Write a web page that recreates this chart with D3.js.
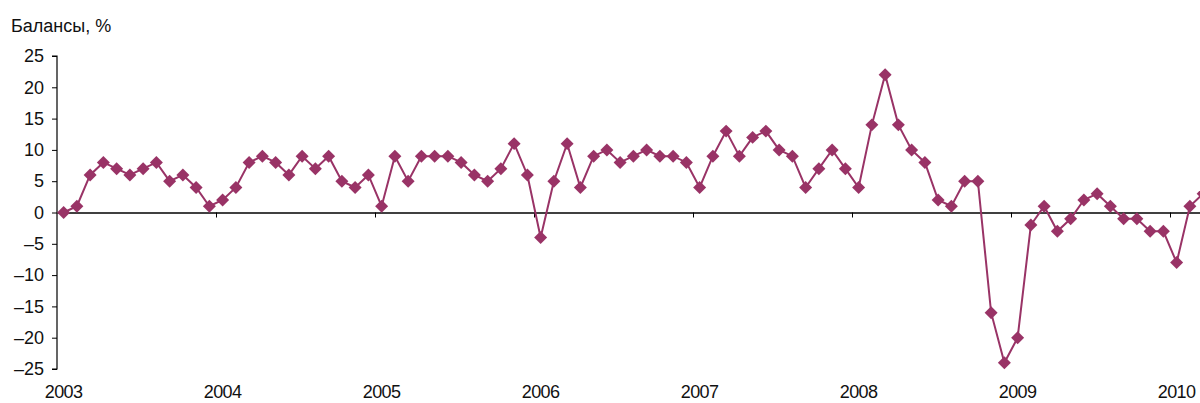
<!DOCTYPE html>
<html>
<head>
<meta charset="utf-8">
<script src="https://cdn.jsdelivr.net/npm/d3@7.9.0/dist/d3.min.js"></script>
<style>
  body { margin: 0; background: #fff; }
  svg { display: block; font-family: "Liberation Sans", Arial, sans-serif; }
  .axis path, .axis line { stroke: #000; }
</style>
</head>
<body>
<div id="chart"></div>
<script>
// monthly balances, Jan..Dec
const v2003 = [0, 1, 6, 8, 7, 6, 7, 8, 5, 6, 4, 1];
const v2004 = [2, 4, 8, 9, 8, 6, 9, 7, 9, 5, 4, 6];
const v2005 = [1, 9, 5, 9, 9, 9, 8, 6, 5, 7, 11, 6];
const v2006 = [-4, 5, 11, 4, 9, 10, 8, 9, 10, 9, 9, 8];
const v2007 = [4, 9, 13, 9, 12, 13, 10, 9, 4, 7, 10, 7];
const v2008 = [4, 14, 22, 14, 10, 8, 2, 1, 5, 5, -16, -24];
const v2009 = [-20, -2, 1, -3, -1, 2, 3, 1, -1, -1, -3, -3];
const v2010 = [-8, 1, 3];

const years = ['2003', '2004', '2005', '2006', '2007', '2008', '2009', '2010'];
const yTicks = [25, 20, 15, 10, 5, 0, -5, -10, -15, -20, -25];

const values = [v2003, v2004, v2005, v2006, v2007, v2008, v2009, v2010].flat();
const data = values.map((v, i) => ({ i, v }));

const width = 1200;
const height = 403;
const left = 57;
const step = 13.25;
const n = values.length;

const svg = d3.select('#chart')
  .append('svg')
  .attr('width', width)
  .attr('height', height);

const x = d3.scaleLinear()
  .domain([0, n])
  .range([left, left + n * step]);

const y = d3.scaleLinear()
  .domain([-25, 25])
  .range([369, 56]);

// title
svg.append('text')
  .attr('x', 11)
  .attr('y', 32)
  .attr('font-size', 18)
  .attr('fill', '#111')
  .text('Балансы, %');

// y axis
const yAxis = d3.axisLeft(y)
  .tickValues(yTicks)
  .tickSize(5)
  .tickPadding(8)
  .tickFormat(d => d < 0 ? '–' + Math.abs(d) : d);

const gy = svg.append('g')
  .attr('class', 'axis')
  .attr('transform', `translate(${left},0)`)
  .call(yAxis);
gy.select('.domain').attr('d', `M-5,${y(25)}H0V${y(-25)}H-5`).attr('stroke-width', 1.2);
gy.selectAll('text').attr('font-size', 18).attr('fill', '#111');

// zero line with year ticks
const yearStarts = years.map((d, k) => k * 12).filter(d => d > 0);
const xAxis = d3.axisBottom(x)
  .tickValues(yearStarts)
  .tickSize(5)
  .tickSizeOuter(0)
  .tickFormat('');

const gx = svg.append('g')
  .attr('class', 'axis')
  .attr('transform', `translate(0,${y(0)})`)
  .call(xAxis);
gx.select('.domain').attr('stroke-width', 1.5);
gx.selectAll('.tick line').attr('stroke', '#555');

// year labels under januaries
svg.append('g')
  .selectAll('text')
  .data(years)
  .join('text')
  .attr('x', (d, k) => x(k * 12 + 0.5))
  .attr('y', 398)
  .attr('text-anchor', 'middle')
  .attr('font-size', 18)
  .attr('letter-spacing', -0.6)
  .attr('fill', '#111')
  .text(d => d);

const color = '#993366';

const line = d3.line()
  .x(d => x(d.i + 0.5))
  .y(d => y(d.v));

svg.append('path')
  .datum(data)
  .attr('fill', 'none')
  .attr('stroke', color)
  .attr('stroke-width', 2)
  .attr('d', line);

const diamond = d3.symbol().type(d3.symbolSquare).size(84);

svg.append('g')
  .selectAll('path')
  .data(data)
  .join('path')
  .attr('d', diamond)
  .attr('transform', d => `translate(${x(d.i + 0.5)},${y(d.v)}) rotate(45)`)
  .attr('fill', color);
</script>
</body>
</html>
